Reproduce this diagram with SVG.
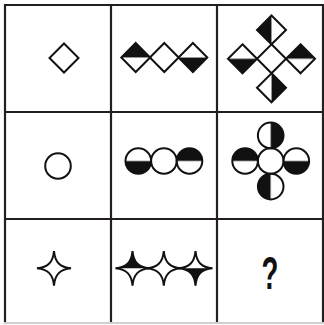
<svg xmlns="http://www.w3.org/2000/svg" width="324" height="325" viewBox="0 0 324 325">
<style>
.g{stroke:#231f20;stroke-width:2.2;fill:none}
.s{stroke:#111;stroke-width:2;fill:none;stroke-linejoin:miter}
.f{fill:#111;stroke:none}
.d{stroke:#999;stroke-width:0.8}
.q{font-family:"Liberation Sans",Arial,sans-serif;font-weight:bold;font-size:46px;fill:#111}
</style>
<rect width="324" height="325" fill="#fff"/>
<g id="grid">
<line class="g" x1="4" y1="5" x2="324" y2="5"/>
<line class="g" x1="5" y1="4" x2="5" y2="324"/>
<line class="g" x1="111" y1="4" x2="111" y2="324"/>
<line class="g" x1="217" y1="4" x2="217" y2="324"/>
<line class="g" x1="323" y1="4" x2="323" y2="324"/>
<line class="g" x1="4" y1="112" x2="324" y2="112"/>
<line class="g" x1="4" y1="219" x2="324" y2="219"/>
<line x1="4" y1="323" x2="324" y2="323" stroke="#d0d0d0" stroke-width="2"/>
</g>
<g id="r1c1">
<path class="s" d="M64,43.5L78.5,58L64,72.5L49.5,58Z"/>
</g>
<g id="r1c2">
<path class="f" d="M121.3,57.5L135.7,43L150.1,57.5Z"/>
<line class="d" x1="121.3" y1="57.5" x2="150.1" y2="57.5"/>
<path class="s" d="M135.7,43L150.1,57.5L135.7,72L121.3,57.5Z"/>
<path class="s" d="M164.3,43L178.7,57.5L164.3,72L149.9,57.5Z"/>
<path class="f" d="M178.5,57.5L207.3,57.5L192.9,72Z"/>
<line class="d" x1="178.5" y1="57.5" x2="207.3" y2="57.5"/>
<path class="s" d="M192.9,43L207.3,57.5L192.9,72L178.5,57.5Z"/>
</g>
<g id="r1c3">
<path class="f" d="M271.5,15.5L271.5,44.3L257,30Z"/>
<line class="d" x1="271.5" y1="15.5" x2="271.5" y2="44.3"/>
<path class="s" d="M271.5,15.5L286,30L271.5,44.3L257,30Z"/>
<path class="f" d="M228,58.8L257,58.8L242.5,73.3Z"/>
<line class="d" x1="228" y1="58.8" x2="257" y2="58.8"/>
<path class="s" d="M242.5,44.3L257,58.8L242.5,73.3L228,58.8Z"/>
<path class="s" d="M271.5,44.3L286,58.8L271.5,73.3L257,58.8Z"/>
<path class="f" d="M286,58.8L300.5,44.3L315,58.8Z"/>
<line class="d" x1="286" y1="58.8" x2="315" y2="58.8"/>
<path class="s" d="M300.5,44.3L315,58.8L300.5,73.3L286,58.8Z"/>
<path class="f" d="M271.5,73.3L286,87.8L271.5,102.3Z"/>
<line class="d" x1="271.5" y1="73.3" x2="271.5" y2="102.3"/>
<path class="s" d="M271.5,73.3L286,87.8L271.5,102.3L257,87.8Z"/>
</g>
<g id="r2c1">
<circle class="s" cx="58" cy="166" r="12.8"/>
</g>
<g id="r2c2">
<path class="f" d="M125.5,161A12.8,12.8 0 0 0 151.1,161Z"/>
<line class="d" x1="125.5" y1="161" x2="151.1" y2="161"/>
<circle class="s" cx="138.3" cy="161" r="12.8"/>
<circle class="s" cx="163.9" cy="161" r="12.8"/>
<path class="f" d="M176.7,161A12.8,12.8 0 0 1 202.3,161Z"/>
<line class="d" x1="176.7" y1="161" x2="202.3" y2="161"/>
<circle class="s" cx="189.5" cy="161" r="12.8"/>
</g>
<g id="r2c3">
<path class="f" d="M270.7,122.6A12.8,12.8 0 0 1 270.7,148.2Z"/>
<line class="d" x1="270.7" y1="122.6" x2="270.7" y2="148.2"/>
<circle class="s" cx="270.7" cy="135.4" r="12.8"/>
<path class="f" d="M232.3,161A12.8,12.8 0 0 1 257.9,161Z"/>
<line class="d" x1="232.3" y1="161" x2="257.9" y2="161"/>
<circle class="s" cx="245.1" cy="161" r="12.8"/>
<circle class="s" cx="270.7" cy="161" r="12.8"/>
<path class="f" d="M283.5,161A12.8,12.8 0 0 0 309.1,161Z"/>
<line class="d" x1="283.5" y1="161" x2="309.1" y2="161"/>
<circle class="s" cx="296.3" cy="161" r="12.8"/>
<path class="f" d="M270.7,173.8A12.8,12.8 0 0 0 270.7,199.4Z"/>
<line class="d" x1="270.7" y1="173.8" x2="270.7" y2="199.4"/>
<circle class="s" cx="270.7" cy="186.6" r="12.8"/>
</g>
<defs>
<path id="star" class="s" d="M0,-17.3C1,-6 6,-1 17,0C6,1 1,6 0,17.3C-1,6 -6,1 -17,0C-6,-1 -1,-6 0,-17.3Z"/>
<path id="tophalf" class="f" d="M-17,0C-6,-1 -1,-6 0,-17.3C1,-6 6,-1 17,0Z"/>
</defs>
<g id="r3c1">
<use href="#star" x="54" y="268.3"/>
</g>
<g id="r3c2">
<use href="#tophalf" x="132.5" y="268.3"/>
<use href="#star" x="132.5" y="268.3"/>
<use href="#star" x="163.8" y="268.3"/>
<use href="#tophalf" transform="translate(195.5,268.3) scale(1,-1)"/>
<use href="#star" x="195.5" y="268.3"/>
</g>
<g id="r3c3">
<text class="q" transform="translate(270,288.5) scale(0.6,1)" text-anchor="middle">?</text>
</g>
</svg>
